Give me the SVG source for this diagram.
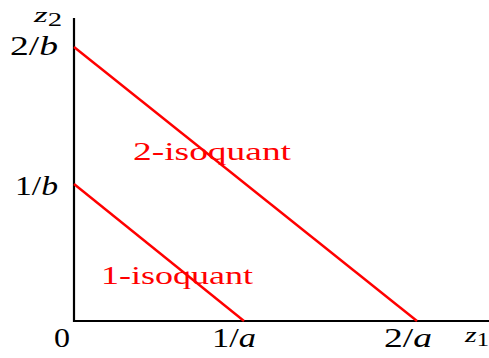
<svg xmlns="http://www.w3.org/2000/svg" width="489" height="358" viewBox="0 0 489 358">
<style>
.t{font-family:"Liberation Serif","Times New Roman",serif;font-size:27px;fill:#000}
.z{font-family:"Liberation Serif","Times New Roman",serif;font-size:22px;fill:#000}
.s{font-size:18px}
.i{font-style:italic}
.r{font-family:"Liberation Serif","Times New Roman",serif;font-size:26px;fill:#ff0000}
.ax{stroke:#000;stroke-width:2.2;fill:none}
.iso{stroke:#ff0000;stroke-width:2.4;fill:none}
</style>
<g id="axes">
<polyline class="ax" points="74,18 74,321 489,321"/>
</g>
<g id="connectors">
<line id="iso1" class="iso" x1="74" y1="184" x2="244" y2="321"/>
<line id="iso2" class="iso" x1="74" y1="47" x2="417" y2="321"/>
</g>
<g id="axis-labels">
<text class="z" x="34" y="22" textLength="28" lengthAdjust="spacingAndGlyphs"><tspan class="i">z</tspan><tspan class="s" dy="4">2</tspan></text>
<text class="t" x="10" y="55" textLength="48" lengthAdjust="spacingAndGlyphs">2/<tspan class="i">b</tspan></text>
<text class="t" x="15" y="195" textLength="43" lengthAdjust="spacingAndGlyphs">1/<tspan class="i">b</tspan></text>
<text class="t" x="54" y="347" textLength="16" lengthAdjust="spacingAndGlyphs">0</text>
<text class="t" x="212" y="347" textLength="44" lengthAdjust="spacingAndGlyphs">1/<tspan class="i">a</tspan></text>
<text class="t" x="384" y="347" textLength="48" lengthAdjust="spacingAndGlyphs">2/<tspan class="i">a</tspan></text>
<text class="z" x="465" y="342" textLength="24" lengthAdjust="spacingAndGlyphs"><tspan class="i">z</tspan><tspan class="s" dy="4">1</tspan></text>
</g>
<g id="label-2">
<text class="r" x="133" y="160" textLength="158" lengthAdjust="spacingAndGlyphs">2-isoquant</text>
</g>
<g id="label-1">
<text class="r" x="101" y="284" textLength="152" lengthAdjust="spacingAndGlyphs">1-isoquant</text>
</g>
</svg>
